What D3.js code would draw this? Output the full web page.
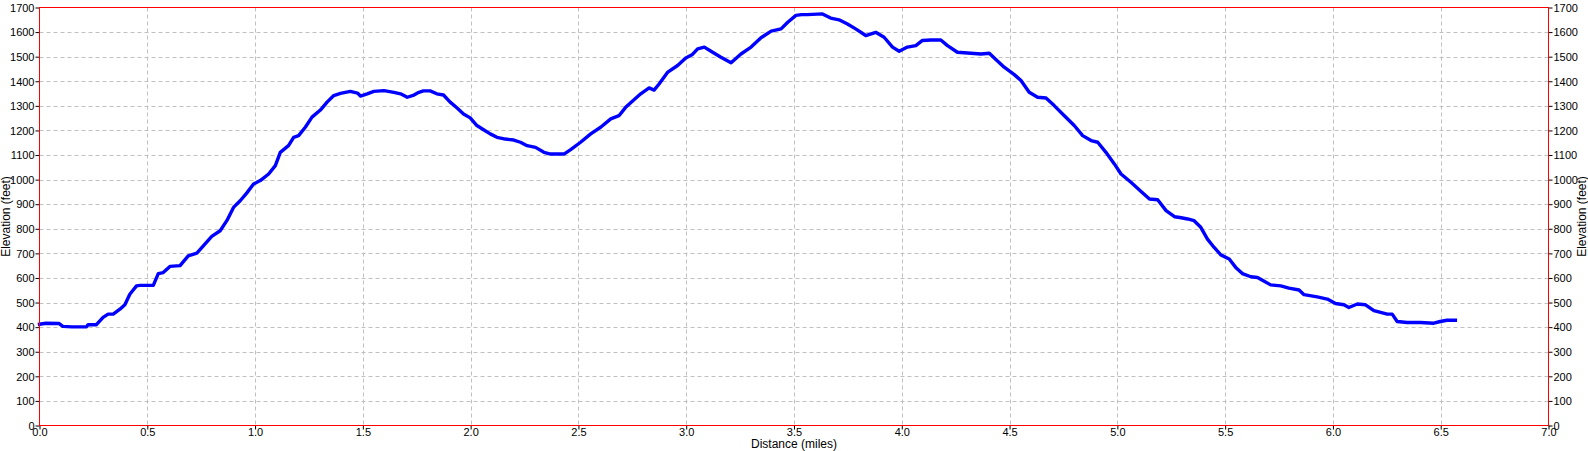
<!DOCTYPE html>
<html>
<head>
<meta charset="utf-8">
<script src="https://cdn.jsdelivr.net/npm/d3@7"></script>
<style>
  html, body { margin: 0; padding: 0; background: #fff; }
  svg { display: block; }
  text { font-family: "Liberation Sans", Arial, sans-serif; fill: #000; }
</style>
</head>
<body>
<svg id="chart" width="1588" height="451"></svg>
<script>
// Distance (miles) and elevation (feet)
const distance = [
  0.0, 0.03, 0.09, 0.108, 0.15, 0.218, 0.225, 0.264, 0.295, 0.318, 0.342, 0.373, 0.396, 0.419, 0.45,
  0.466, 0.528, 0.551, 0.574, 0.605, 0.652, 0.69, 0.73, 0.76, 0.799, 0.838, 0.869, 0.9, 0.931,
  0.962, 0.993, 1.024, 1.063, 1.094, 1.117, 1.155, 1.179, 1.202, 1.233, 1.264, 1.303, 1.334,
  1.365, 1.396, 1.442, 1.475, 1.489, 1.52, 1.551, 1.598, 1.644, 1.675, 1.706, 1.737, 1.76,
  1.781, 1.812, 1.843, 1.874, 1.905, 1.936, 1.967, 1.998, 2.029, 2.06, 2.091, 2.122, 2.161,
  2.2, 2.231, 2.262, 2.301, 2.34, 2.371, 2.433, 2.464, 2.51, 2.557, 2.603, 2.65, 2.688, 2.719,
  2.75, 2.789, 2.828, 2.851, 2.874, 2.913, 2.96, 2.998, 3.029, 3.053, 3.084, 3.115, 3.161,
  3.208, 3.254, 3.301, 3.347, 3.394, 3.44, 3.471, 3.509, 3.535, 3.562, 3.632, 3.67, 3.709,
  3.748, 3.786, 3.833, 3.879, 3.918, 3.957, 3.988, 4.026, 4.065, 4.096, 4.135, 4.181, 4.212,
  4.258, 4.305, 4.367, 4.406, 4.429, 4.475, 4.522, 4.553, 4.591, 4.63, 4.669, 4.707, 4.754,
  4.8, 4.839, 4.878, 4.909, 4.947, 4.986, 5.017, 5.063, 5.11, 5.149, 5.187, 5.226, 5.265,
  5.29, 5.326, 5.356, 5.387, 5.418, 5.449, 5.48, 5.519, 5.549, 5.58, 5.619, 5.65, 5.673,
  5.711, 5.758, 5.796, 5.843, 5.866, 5.927, 5.974, 6.012, 6.051, 6.074, 6.113, 6.151, 6.19,
  6.252, 6.275, 6.298, 6.344, 6.406, 6.468, 6.498, 6.529, 6.568
];
const elevation = [
  412, 416, 415, 403, 401, 401, 410, 410, 440, 453, 453, 473, 491, 534, 568,
  570, 570, 618, 622, 647, 650, 690, 701, 731, 769, 792, 833, 887, 914,
  946, 982, 996, 1023, 1057, 1111, 1138, 1172, 1179, 1213, 1254, 1283, 1315,
  1342, 1351, 1359, 1352, 1340, 1349, 1359, 1362, 1355, 1349, 1335, 1344, 1355,
  1361, 1361, 1349, 1344, 1315, 1292, 1267, 1251, 1220, 1203, 1186, 1172, 1165,
  1161, 1152, 1138, 1131, 1111, 1104, 1104, 1122, 1152, 1186, 1213, 1247, 1260, 1294,
  1319, 1349, 1373, 1364, 1389, 1436, 1464, 1495, 1509, 1532, 1539, 1522, 1498,
  1475, 1511, 1539, 1577, 1604, 1613, 1640, 1668, 1671, 1671, 1674, 1657, 1650,
  1633, 1613, 1586, 1599, 1579, 1539, 1522, 1539, 1545, 1566, 1568, 1568, 1545,
  1518, 1515, 1511, 1514, 1495, 1457, 1427, 1403, 1355, 1335, 1332, 1301, 1260,
  1220, 1179, 1159, 1152, 1111, 1064, 1023, 989, 952, 921, 918, 874, 849,
  846, 840, 833, 806, 758, 724, 694, 677, 643, 618, 605, 602, 591,
  572, 568, 559, 551, 532, 523, 514, 496, 491, 480, 494, 491, 467,
  453, 453, 423, 419, 419, 416, 423, 428, 428
];
const xTicks = [0, 0.5, 1, 1.5, 2, 2.5, 3, 3.5, 4, 4.5, 5, 5.5, 6, 6.5, 7];
const yTicks = [0, 100, 200, 300, 400, 500, 600, 700, 800, 900, 1000, 1100, 1200, 1300, 1400, 1500, 1600, 1700];
const xTitle = "Distance (miles)";
const yTitle = "Elevation (feet)";

(function () {
const pL = 39.5, pR = 1548.5, pT = 7.5, pB = 425.5;

const svg = d3.select("#chart");
const x = d3.scaleLinear().domain([0, 7]).range([pL, pR]);
const y = d3.scaleLinear().domain([0, 1700]).range([pB, pT]);

// grid
const grid = svg.append("g");
grid.selectAll("line.gx").data(xTicks.slice(1, -1)).join("line")
  .attr("x1", d => Math.round(x(d)) + 0.5).attr("x2", d => Math.round(x(d)) + 0.5)
  .attr("y1", pT).attr("y2", pB)
  .attr("stroke", "#c0c0c0").attr("stroke-dasharray", "4,3");
grid.selectAll("line.gy").data(yTicks.slice(1, -1)).join("line")
  .attr("y1", d => Math.round(y(d)) + 0.5).attr("y2", d => Math.round(y(d)) + 0.5)
  .attr("x1", pL).attr("x2", pR)
  .attr("stroke", "#c0c0c0").attr("stroke-dasharray", "4,3");

// line
const data = distance.map((d, i) => [d, elevation[i]]);
svg.append("path").datum(data)
  .attr("fill", "none").attr("stroke", "#0000ff").attr("stroke-width", 3.4)
  .attr("stroke-linejoin", "round").attr("stroke-linecap", "square")
  .attr("d", d3.line().x(d => x(d[0])).y(d => y(d[1])));

// axes
const fmtX = d3.format(".1f");
const axB = svg.append("g").attr("transform", `translate(0,${pB})`)
  .call(d3.axisBottom(x).tickValues(xTicks).tickFormat(fmtX).tickSize(4).tickPadding(0));
const axL = svg.append("g").attr("transform", `translate(${pL},0)`)
  .call(d3.axisLeft(y).tickValues(yTicks).tickFormat(d3.format("d")).tickSize(4).tickPadding(1));
const axR = svg.append("g").attr("transform", `translate(${pR},0)`)
  .call(d3.axisRight(y).tickValues(yTicks).tickFormat(d3.format("d")).tickSize(4).tickPadding(1));
[axB, axL, axR].forEach(a => {
  a.select(".domain").remove();
  a.selectAll(".tick line").attr("stroke", "#000");
  a.selectAll(".tick text").style("font-size", "11px")
    .style("font-family", '"Liberation Sans", Arial, sans-serif').attr("fill", "#000");
});
axB.selectAll(".tick text").attr("dy", "0.62em");
axL.selectAll(".tick text").attr("dy", "0.34em");
axR.selectAll(".tick text").attr("dy", "0.34em");

// frame
svg.append("rect").attr("x", pL).attr("y", pT)
  .attr("width", pR - pL).attr("height", pB - pT)
  .attr("fill", "none").attr("stroke", "#ff0000").attr("stroke-width", 1);

// titles
svg.append("text").attr("x", (pL + pR) / 2).attr("y", 448)
  .attr("text-anchor", "middle").style("font-size", "12px").text(xTitle);
svg.append("text").attr("transform", `translate(10,${(pT + pB) / 2}) rotate(-90)`)
  .attr("text-anchor", "middle").style("font-size", "12px").text(yTitle);
svg.append("text").attr("transform", `translate(1586,${(pT + pB) / 2}) rotate(-90)`)
  .attr("text-anchor", "middle").style("font-size", "12px").text(yTitle);
})();
</script>
</body>
</html>
